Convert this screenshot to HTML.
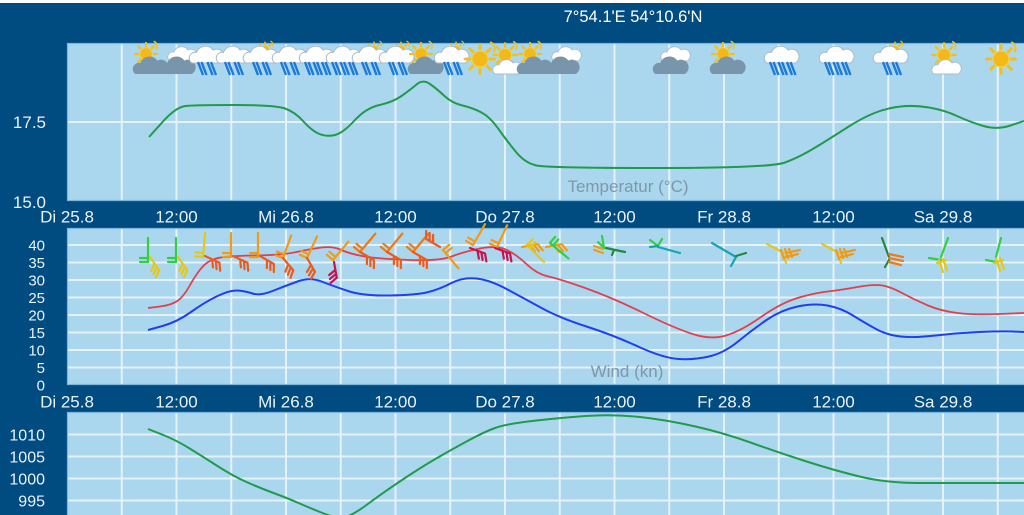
<!DOCTYPE html>
<html><head><meta charset="utf-8">
<style>
html,body{margin:0;padding:0;width:1024px;height:515px;overflow:hidden;background:#004b80;}
svg{display:block;}
</style></head>
<body>
<svg width="1024" height="515" viewBox="0 0 1024 515" xmlns="http://www.w3.org/2000/svg" xmlns:xlink="http://www.w3.org/1999/xlink" font-family="'Liberation Sans', Arial, sans-serif">
<defs>
  <path id="cl" d="M-12,0 A5,5 0 0 1 -8,-9 A8,8 0 0 1 6,-11 A6,6 0 0 1 12,0 Z"/>
  <g id="gc"><use href="#cl" fill="#7895ab" transform="scale(1.22)"/></g>
  <g id="wc"><use href="#cl" fill="#ffffff" stroke="#a9bccb" stroke-width="0.9" transform="scale(1.18)"/></g>
  <g id="sun">
    <path d="M0,-9V-13 M0,9V13 M-9,0H-13 M9,0H13 M6.4,-6.4L9.2,-9.2 M-6.4,-6.4L-9.2,-9.2 M6.4,6.4L9.2,9.2 M-6.4,6.4L-9.2,9.2" stroke="#f2c01e" stroke-width="2.6" stroke-linecap="round"/>
    <circle r="7.2" fill="#f5b81a" stroke="#f7d23a" stroke-width="1"/>
    <path d="M9,-15 a6,6 0 0 1 3,9" fill="none" stroke="#f0c21e" stroke-width="1.8"/>
  </g>
  <g id="r2" stroke="#1c7ad8" stroke-width="2.4"><path d="M-8,18l5,13M-4.5,18l5,13M1.5,18l5,13M5,18l5,13"/></g>
  <g id="r3" stroke="#1c7ad8" stroke-width="2.4"><path d="M-11,18l5,13M-7.5,18l5,13M-2.5,18l5,13M1,18l5,13M6,18l5,13M9.5,18l5,13"/></g>

  <g id="i_sg"><use href="#sun" transform="translate(-4,10) scale(.85)"/><use href="#gc" transform="translate(0,30)"/></g>
  <g id="i_wg"><use href="#wc" transform="translate(4,17) scale(.85)"/><use href="#gc" transform="translate(-1,30)"/></g>
  <g id="i_r2"><use href="#wc" transform="translate(0,19)"/><use href="#r2"/></g>
  <g id="i_r3"><use href="#wc" transform="translate(0,19)"/><use href="#r3"/></g>
  <g id="i_r2s"><use href="#sun" transform="translate(4,6) scale(.6)"/><use href="#wc" transform="translate(-1,19)"/><use href="#r2"/></g>
  <g id="i_s"><use href="#sun" transform="translate(0,15) scale(1.12)"/></g>
  <g id="i_sw"><use href="#sun" transform="translate(-2,11) scale(.9)"/><use href="#wc" transform="translate(0,30) scale(.85)"/></g>

  <g id="bw" fill="none" stroke="currentColor" stroke-width="2.2" stroke-linecap="round"><path d="M0,0V-24M0,0h-8M0,-4h-8"/></g>
  <g id="bg" fill="none" stroke="currentColor" stroke-width="2.2" stroke-linecap="round"><path d="M0,0L0,-16M0,-16l7,-4M0,-12l7,-4M0,-8l7,-4"/></g>
</defs>

<rect width="1024" height="515" fill="#004b80"/>
<rect width="1024" height="3" fill="#ffffff"/>

<text x="633" y="22" font-size="16.5" fill="#ffffff" text-anchor="middle">7°54.1'E 54°10.6'N</text>

<rect x="67" y="43" width="957" height="158" fill="#abd7ee"/>
<rect x="67" y="228" width="957" height="157" fill="#abd7ee"/>
<rect x="67" y="412" width="957" height="103" fill="#abd7ee"/>

<g stroke="#e6f2fa" stroke-width="2" fill="none">
  <path d="M121.75 43V201M176.5 43V201M231.25 43V201M286 43V201M340.75 43V201M395.5 43V201M450.25 43V201M505 43V201M559.75 43V201M614.5 43V201M669.25 43V201M724 43V201M778.75 43V201M833.5 43V201M888.25 43V201M943 43V201M997.75 43V201"/>
  <path d="M67 122H1024"/>
  <path d="M121.75 228V385M176.5 228V385M231.25 228V385M286 228V385M340.75 228V385M395.5 228V385M450.25 228V385M505 228V385M559.75 228V385M614.5 228V385M669.25 228V385M724 228V385M778.75 228V385M833.5 228V385M888.25 228V385M943 228V385M997.75 228V385"/>
  <path d="M67 367.5H1024M67 350H1024M67 332.5H1024M67 315H1024M67 297.5H1024M67 280H1024M67 262.5H1024M67 245H1024"/>
  <path d="M121.75 412V515M176.5 412V515M231.25 412V515M286 412V515M340.75 412V515M395.5 412V515M450.25 412V515M505 412V515M559.75 412V515M614.5 412V515M669.25 412V515M724 412V515M778.75 412V515M833.5 412V515M888.25 412V515M943 412V515M997.75 412V515"/>
  <path d="M67 434.5H1024M67 456.5H1024M67 478.5H1024M67 500.5H1024"/>
</g>
<g stroke="#7fb6dc" stroke-width="1.2" fill="none">
  <path d="M67.5 43V201M67.5 228V385M67.5 412V515M67 43.5H1024M67 228.5H1024M67 412.5H1024M67 200.5H1024M67 384.5H1024"/>
</g>

<g fill="#eaf2f8" text-anchor="end">
  <text x="46" y="128" font-size="17">17.5</text>
  <text x="46" y="208" font-size="17">15.0</text>
  <g font-size="15">
    <text x="45" y="250.4">40</text>
    <text x="45" y="267.9">35</text>
    <text x="45" y="285.4">30</text>
    <text x="45" y="302.9">25</text>
    <text x="45" y="320.4">20</text>
    <text x="45" y="337.9">15</text>
    <text x="45" y="355.4">10</text>
    <text x="45" y="372.9">5</text>
    <text x="45" y="390.4">0</text>
  </g>
  <g font-size="16">
    <text x="45" y="440.3">1010</text>
    <text x="45" y="462.3">1005</text>
    <text x="45" y="484.3">1000</text>
    <text x="45" y="506.3">995</text>
  </g>
</g>

<g fill="#eaf2f8" text-anchor="middle" font-size="17">
  <text x="67" y="222.5">Di 25.8</text>
  <text x="176.5" y="222.5">12:00</text>
  <text x="286" y="222.5">Mi 26.8</text>
  <text x="395.5" y="222.5">12:00</text>
  <text x="505" y="222.5">Do 27.8</text>
  <text x="614.5" y="222.5">12:00</text>
  <text x="724" y="222.5">Fr 28.8</text>
  <text x="833.5" y="222.5">12:00</text>
  <text x="943" y="222.5">Sa 29.8</text>
  <text x="67" y="407.5">Di 25.8</text>
  <text x="176.5" y="407.5">12:00</text>
  <text x="286" y="407.5">Mi 26.8</text>
  <text x="395.5" y="407.5">12:00</text>
  <text x="505" y="407.5">Do 27.8</text>
  <text x="614.5" y="407.5">12:00</text>
  <text x="724" y="407.5">Fr 28.8</text>
  <text x="833.5" y="407.5">12:00</text>
  <text x="943" y="407.5">Sa 29.8</text>
</g>

<text x="628" y="192" font-size="17" fill="#7d97ab" text-anchor="middle">Temperatur (°C)</text>
<text x="627" y="377" font-size="17" fill="#7d97ab" text-anchor="middle">Wind (kn)</text>

<path fill="none" stroke="#229a4c" stroke-width="2" d="M149,137 L162.5,122 Q176,107 185.5,106 Q195,105 235,105 Q275,105 285,108.5 Q295,112 303.5,121.5 Q312,131 319.5,134 Q327,137 335,135 Q343,133 354.5,120.5 Q366,108 379.5,105 Q393,102 401.5,96 Q410,90 416.5,84.5 Q423,79 430,84 Q437,89 444.5,96 Q452,103 462.5,105.5 Q473,108 481.5,112.5 Q490,117 498.5,129 Q507,141 516,152 Q525,163 536.5,165.5 Q548,168 659,168 Q770,168 785,162.5 Q800,157 817,146.5 Q834,136 848,127 Q862,118 874.5,113 Q887,108 900.5,106.5 Q914,105 929,107.5 Q944,110 957,116 Q970,122 983.5,126 Q997,130 1010.5,125.5 L1024,121"/>

<g transform="translate(0,44)">
  <use href="#i_sg" x="150" y="0"/>
  <use href="#i_wg" x="178" y="0"/>
  <use href="#i_r2" x="206" y="0"/>
  <use href="#i_r2" x="233" y="0"/>
  <use href="#i_r2s" x="261" y="0"/>
  <use href="#i_r2" x="289" y="0"/>
  <use href="#i_r3" x="316" y="0"/>
  <use href="#i_r3" x="343" y="0"/>
  <use href="#i_r2s" x="370" y="0"/>
  <use href="#i_r2s" x="397" y="0"/>
  <use href="#i_sg" x="425" y="0"/>
  <use href="#i_r2s" x="452" y="0"/>
  <use href="#i_s" x="480" y="0"/>
  <use href="#i_sw" x="507" y="0"/>
  <use href="#i_sg" x="534" y="0"/>
  <use href="#i_wg" x="562" y="0"/>
  <use href="#i_wg" x="671" y="0"/>
  <use href="#i_sg" x="727" y="0"/>
  <use href="#i_r3" x="781" y="0"/>
  <use href="#i_r3" x="836" y="0"/>
  <use href="#i_r2s" x="891" y="0"/>
  <use href="#i_sw" x="946" y="0"/>
  <use href="#i_s" x="1001" y="0"/>
</g>

<path fill="none" stroke="#e0404e" stroke-width="1.8" d="M148,308 L160,306.5 Q172,305 178,300.5 Q184,296 189.5,286 Q195,276 201,268.5 Q207,261 216,258.5 Q225,256 254,255.5 Q283,255 296.5,252 Q310,249 321.5,247.5 Q333,246 341.5,250 Q350,254 365,256.5 Q380,259 410,260 Q440,261 451.5,256.5 Q463,252 480,248.5 Q497,245 507,250 Q517,255 527,264.5 Q537,274 548.5,276.5 Q560,279 586.5,288.5 Q613,298 643.5,313 Q674,328 692.5,334 Q711,340 726,335.5 Q741,331 761,317 Q781,303 797.5,298 Q814,293 827.5,291.5 Q841,290 857.5,287 Q874,284 882.5,285.5 Q891,287 903,293.5 Q915,300 928,305.5 Q941,311 957.5,313 Q974,315 999,314 L1024,313"/>
<path fill="none" stroke="#1f3ff0" stroke-width="2" d="M148,330 L162.5,326 Q177,322 191,312 Q205,302 217.5,296 Q230,290 237.5,290.5 Q245,291 252.5,293.5 Q260,296 272.5,291 Q285,286 297.5,281.5 Q310,277 321.5,281.5 Q333,286 348,291 Q363,296 390,295.5 Q417,295 428.5,292 Q440,289 451.5,283 Q463,277 476.5,278.5 Q490,280 507.5,289.5 Q525,299 542.5,308.5 Q560,318 586.5,326.5 Q613,335 638,346.5 Q663,358 678.5,359 Q694,360 709,356.5 Q724,353 738,341.5 Q752,330 766.5,320 Q781,310 797.5,306.5 Q814,303 827.5,305.5 Q841,308 853,315.5 Q865,323 876,329 Q887,335 900.5,336.5 Q914,338 935.5,335.5 Q957,333 979,332 Q1001,331 1012.5,331.5 L1024,332"/>

<g>
  <use href="#bw" color="#30d040" transform="translate(148,262)"/>
  <use href="#bg" color="#e6c812" transform="translate(150,257) rotate(145)"/>
  <use href="#bw" color="#30d040" transform="translate(176,262)"/>
  <use href="#bg" color="#e6c812" transform="translate(178,257) rotate(145)"/>
  <use href="#bw" color="#e6c812" transform="translate(203,257) rotate(5)"/>
  <use href="#bg" color="#ee5a1a" transform="translate(205,256) rotate(115)"/>
  <use href="#bw" color="#f39a12" transform="translate(231,257)"/>
  <use href="#bg" color="#ee5a1a" transform="translate(233,256) rotate(115)"/>
  <use href="#bw" color="#f39a12" transform="translate(258,257)"/>
  <use href="#bg" color="#ee5a1a" transform="translate(260,256) rotate(120)"/>
  <use href="#bw" color="#f39a12" transform="translate(283,258) rotate(20)"/>
  <use href="#bg" color="#ee5a1a" transform="translate(283,258) rotate(140)"/>
  <use href="#bw" color="#f39a12" transform="translate(307,258) rotate(25)"/>
  <use href="#bg" color="#ee5a1a" transform="translate(307,258) rotate(150)"/>
  <use href="#bw" color="#f39a12" transform="translate(333,260) rotate(40)"/>
  <use href="#bg" color="#c8144e" transform="translate(334,262) rotate(170)"/>
  <use href="#bw" color="#f07a10" transform="translate(360,252) rotate(40)"/>
  <use href="#bg" color="#ee5a1a" transform="translate(360,252) rotate(120)"/>
  <use href="#bw" color="#f07a10" transform="translate(387,252) rotate(40)"/>
  <use href="#bg" color="#ee5a1a" transform="translate(387,252) rotate(120)"/>
  <use href="#bw" color="#f07a10" transform="translate(413,252) rotate(40)"/>
  <use href="#bg" color="#ee5a1a" transform="translate(413,252) rotate(120)"/>
  <use href="#bg" color="#ee5a1a" transform="translate(440,247) rotate(-60)"/>
  <use href="#bw" color="#f39a12" transform="translate(443,250) rotate(140)"/>
  <use href="#bw" color="#f39a12" transform="translate(473,245) rotate(30)"/>
  <use href="#bg" color="#c8144e" transform="translate(470,248) rotate(110)"/>
  <use href="#bw" color="#f39a12" transform="translate(497,247) rotate(25)"/>
  <use href="#bg" color="#c8144e" transform="translate(495,248) rotate(110)"/>
  <use href="#bg" color="#f39a12" transform="translate(522,247) rotate(80)"/>
  <use href="#bw" color="#e6c812" transform="translate(527,245) rotate(135)"/>
  <use href="#bg" color="#f39a12" transform="translate(546,247) rotate(80)"/>
  <use href="#bw" color="#30d040" transform="translate(550,243) rotate(130)"/>
  <g fill="none" stroke-width="2.2" stroke-linecap="round">
    <path d="M604,248 L602,236 M604,248 l-6,-6" stroke="#30d040"/>
    <path d="M594,246 l9,3 M594,250 l9,3" stroke="#f39a12"/>
    <path d="M606,248 L625,252 M614,250 l-2,5" stroke="#1d8a40"/>
    <path d="M658,246 L650,240 M658,246 l4,-7" stroke="#30d040"/>
    <path d="M658,247 L680,253 M650,247 l8,-1" stroke="#17a3b3"/>
    <path d="M712,243 L736,257 L731,266" stroke="#17a3b3"/>
    <path d="M736,256 L746,253" stroke="#1d8a40"/>
    <path d="M767,244 L784,253 M784,256 l2,7" stroke="#e6c812"/>
    <path d="M781,250 l3,9 M785,249 l3,9 M789,249 l3,8 M786,253 l14,-3 M786,257 l12,-3" stroke="#f39a12"/>
    <path d="M822,244 L839,253 M839,256 l2,7" stroke="#e6c812"/>
    <path d="M836,250 l3,9 M840,249 l3,9 M844,249 l3,8 M841,253 l14,-3 M841,257 l12,-3" stroke="#f39a12"/>
    <path d="M882,238 L889,257 M889,260 L885,267" stroke="#1d8a40"/>
    <path d="M889,254 l14,3 M889,258 l14,3 M889,262 l12,3" stroke="#ef7a18"/>
    <path d="M948,238 L941,257 M929,258 L941,260" stroke="#30d040"/>
    <path d="M939,260 l4,12 M943,259 l4,11 M937,263 l9,-3" stroke="#e6c812"/>
    <path d="M1001,238 L996,257 M986,260 L996,262" stroke="#30d040"/>
    <path d="M996,258 l4,13 M1000,258 l4,11 M994,263 l9,-3" stroke="#e6c812"/>
  </g>
</g>

<path fill="none" stroke="#229a4c" stroke-width="2" d="M148,429 L162,434.5 Q176,440 190.5,449 Q205,458 219,467 Q233,476 246.5,482 Q260,488 273.5,493 Q287,498 298.5,503 Q310,508 320,512 Q330,516 335,517 Q340,518 346.5,516.5 Q353,515 368.5,503.5 Q384,492 402,480 Q420,468 434.5,459.5 Q449,451 466.5,441.5 Q484,432 495,428 Q506,424 532,421 Q558,418 585.5,416 Q613,414 640,417 Q667,420 695.5,426.5 Q724,433 750.5,442.5 Q777,452 805,461 Q833,470 859.5,476.5 Q886,483 918.5,483 Q951,483 987.5,483 L1024,483"/>
</svg>
</body></html>
